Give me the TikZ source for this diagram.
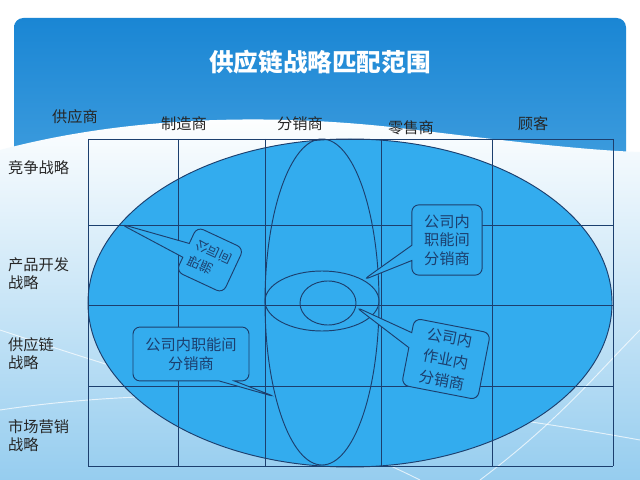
\documentclass[tikz,border=0pt]{standalone}
\usepackage{fontspec}
\setmainfont{Noto Sans CJK SC}
\usetikzlibrary{shapes.geometric,shapes.callouts}
\definecolor{navy}{HTML}{1C3F6E}
\definecolor{skyfill}{HTML}{33ACEE}
\definecolor{hdrtop}{HTML}{1A86D4}
\definecolor{hdrbot}{HTML}{8ACCF2}
\definecolor{paleblue}{HTML}{96CDEF}
\definecolor{labelgray}{HTML}{262626}
\tikzset{
  oval/.style={ellipse, draw=navy, line width=.8pt, inner sep=0pt, outer sep=0pt},
  bubble/.style={rectangle callout, draw=navy, fill=skyfill, line width=.8pt, rounded corners=6pt,
    callout pointer width=13pt, text=navy, font=\fontsize{13}{16}\selectfont, align=center, inner sep=0pt},
  lbl/.style={text=labelgray, font=\fontsize{13}{15.5}\selectfont, inner sep=0pt, align=left}
}
\begin{document}
\begin{tikzpicture}[x=.03cm, y=-.03cm]
	\useasboundingbox (0,0) rectangle (640,480);
	\fill [white] (0,0) rectangle (640,480);
	\shade [top color=hdrtop, bottom color=hdrbot, rounded corners=8pt] (14,18) rectangle (626,480);
	\shade [top color=white, bottom color=paleblue] (0,150) .. controls (120,118) and (260,112) .. (400,128) .. controls (500,140) and (580,150) .. (640,152) -- (640,480) -- (0,480) -- cycle;
	\draw [white, line width=.8pt, opacity=.7] (0,330) .. controls (150,380) and (300,420) .. (420,480);
	\draw [white, line width=.8pt, opacity=.7] (0,410) .. controls (200,380) and (420,400) .. (640,440);
	\draw [white, line width=.8pt, opacity=.7] (480,480) .. controls (560,420) and (600,370) .. (640,330);
	\node [text=white, font=\fontsize{21}{24}\selectfont\bfseries] (title) at (320,62) {供应链战略匹配范围};
	\foreach \x/\y/\t/\n in {75/117/供应商/sup, 184/124/制造商/man, 300/124/分销商/dis, 411/128/零售商/ret, 533/124/顾客/cus} {
		\node [lbl] (col-\n) at (\x,\y) {\t};
	}
	\node [lbl, anchor=west] (row-comp) at (8,168) {竞争战略};
	\node [lbl, anchor=west] (row-prod) at (8,274) {产品开发\\战略};
	\node [lbl, anchor=west] (row-scm) at (8,354) {供应链\\战略};
	\node [lbl, anchor=west] (row-mkt) at (8,436) {市场营销\\战略};
	\node [oval, fill=skyfill, minimum width=15.72cm, minimum height=9.84cm] (outer) at (350,303) {};
	\foreach \x in {88, 178, 265, 381, 492, 613} {
		\draw [navy, line width=.8pt] (\x,139) -- (\x,466);
	}
	\foreach \y in {139, 225, 305, 386, 466} {
		\draw [navy, line width=.8pt] (88,\y) -- (613,\y);
	}
	\node [oval, minimum width=3.42cm, minimum height=9.78cm] (vertical) at (322,302) {};
	\node [oval, minimum width=3.42cm, minimum height=1.8cm] (medium) at (322,301) {};
	\node [oval, minimum width=1.68cm, minimum height=1.32cm] (small) at (328,303) {};
	\node [bubble, rotate=-25, yscale=-1, align=left, font=\fontsize{11}{15}\selectfont,
		minimum width=44pt, minimum height=42pt, callout absolute pointer={(outer.161)}] (fn-a) at (210,260) {职能\\公司间};
	\node [bubble, minimum width=60pt, minimum height=60pt, callout absolute pointer={(medium.27)}] (fn-b) at (447,240) {公司内\\职能间\\分销商};
	\node [bubble, minimum width=99pt, minimum height=46pt, callout absolute pointer={(vertical.244)}] (fn-c) at (191,354) {公司内职能间\\分销商};
	\node [bubble, rotate=-11, font=\fontsize{13}{18.5}\selectfont, minimum width=66pt, minimum height=58pt,
		callout absolute pointer={(small.352)}] (op) at (446,359) {公司内\\作业内\\分销商};
\end{tikzpicture}
\end{document}
